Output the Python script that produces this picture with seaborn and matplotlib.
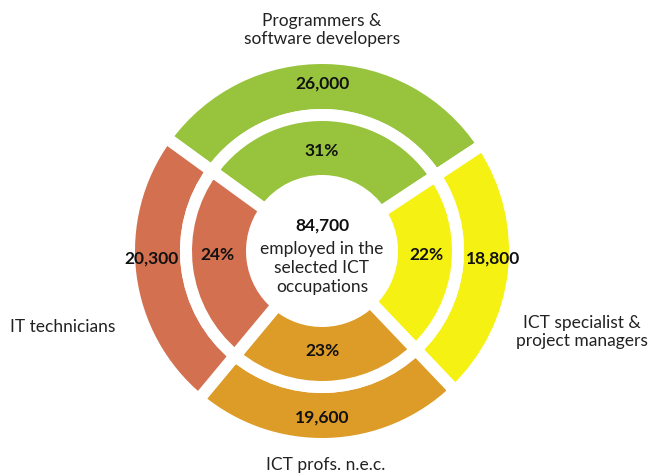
import numpy as np
import matplotlib
matplotlib.use("Agg")
import matplotlib.pyplot as plt
import seaborn as sns

# Data
categories = ["Programmers &\nsoftware developers", "ICT specialist &\nproject managers",
              "ICT profs. n.e.c.", "IT technicians"]
employed = [26000, 18800, 19600, 20300]
share_labels = ["31%", "22%", "23%", "24%"]
count_labels = ["26,000", "18,800", "19,600", "20,300"]
total_label = "84,700"
colors = ["#97C43C", "#F5F113", "#DD9B27", "#D2704F"]

sns.set_theme(style="white")
plt.rcParams['font.family'] = ['Lato', 'DejaVu Sans']

fig = plt.figure(figsize=(6.52, 4.76), dpi=100)
ax = fig.add_axes([0, 0, 1, 1])
cx, cy = 322, 476 - 251
gap = 12  # white separator in px

wedge_style = dict(edgecolor="white", linewidth=gap * 72 / 100)
ax.pie(employed, radius=193, center=(cx, cy), colors=colors, startangle=144,
       counterclock=False, wedgeprops=dict(width=57, **wedge_style), frame=True)
ax.pie(employed, radius=136, center=(cx, cy), colors=colors, startangle=144,
       counterclock=False, wedgeprops=dict(width=66, **wedge_style), frame=True)

ax.set_xlim(0, 652)
ax.set_ylim(0, 476)
ax.set_aspect("equal")
ax.axis("off")

fs = 12.5
dark = "#111111"
txt = "#222222"

# label angles (degrees), slightly nudged from wedge centres as in the original
label_angles = [90, -2.5, -90, 182.5]
for ang, cnt, pct in zip(label_angles, count_labels, share_labels):
    a = np.deg2rad(ang)
    ax.text(cx + 171 * np.cos(a), cy + 167 * np.sin(a), cnt, ha="center", va="center",
            fontsize=fs, fontweight="bold", color=dark)
    ax.text(cx + 105 * np.cos(a), cy + 100 * np.sin(a), pct, ha="center", va="center",
            fontsize=fs, fontweight="bold", color=dark)

# centre text
ax.text(cx, 476 - 226, total_label, ha="center", va="center", fontsize=fs,
        fontweight="bold", color=dark)
ax.text(cx, 476 - 268, "employed in the\nselected ICT\noccupations", ha="center",
        va="center", fontsize=fs, color=txt, linespacing=1.2)

# category labels
ax.text(322, 476 - 30, categories[0], ha="center", va="center", fontsize=fs,
        color=txt, linespacing=1.15)
ax.text(582, 476 - 332, categories[1], ha="center", va="center", fontsize=fs,
        color=txt, linespacing=1.15)
ax.text(326, 476 - 465, categories[2], ha="center", va="center", fontsize=fs,
        color=txt)
ax.text(10, 476 - 327, categories[3], ha="left", va="center", fontsize=fs,
        color=txt)

fig.savefig("out.png", dpi=100, facecolor="white")
